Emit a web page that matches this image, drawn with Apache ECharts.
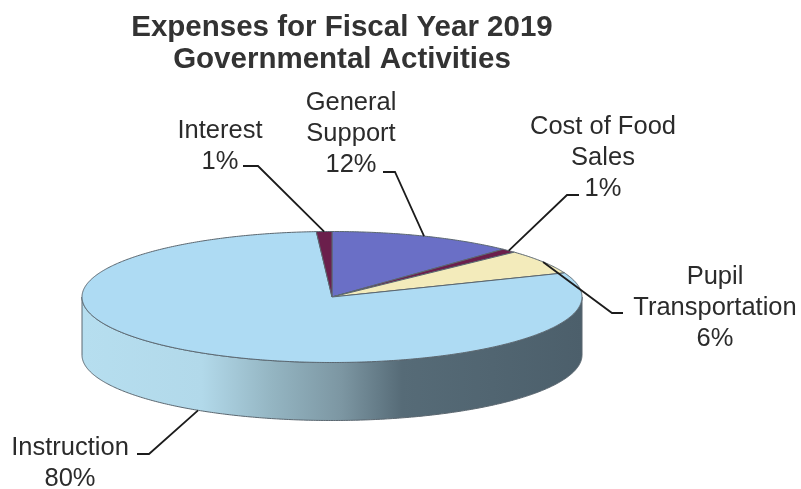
<!DOCTYPE html>
<html><head><meta charset="utf-8">
<style>html,body{margin:0;padding:0;background:#fff}#c{width:801px;height:489px}</style>
<script src="https://cdn.jsdelivr.net/npm/echarts@6/dist/echarts.min.js"></script>
</head><body><div id="c"></div>
<script>
const categories = ['General\nSupport', 'Cost of Food\nSales', 'Pupil\nTransportation', 'Instruction', 'Interest'];
const values = [12, 1, 6, 80, 1];
const titleLines = ['Expenses for Fiscal Year 2019', 'Governmental Activities'];

const colors = ['#6a6fc6', '#6b1f4c', '#f3ebbb', '#aedbf3', '#6b1f4c'];
const geo = {cx: 332, cy: 297, rx: 250, ry: 65.5, depth: 58};
const labelLayout = [
  {x: 351, y: 134, path: [[383, 172], [395, 172]]},
  {x: 603, y: 158, path: [[579, 195], [567, 195]]},
  {x: 715, y: 308, path: [[623, 313], [612, 313]]},
  {x: 70, y: 463, path: [[137, 454], [149, 454]]},
  {x: 220, y: 146, path: [[243, 166], [258, 166]]}
];
const total = values.reduce((a, b) => a + b, 0);
const starts = [];
values.reduce((acc, v, i) => { starts[i] = acc; return acc + v; }, 0);
const ang = v => v / total * 2 * Math.PI;
const pt = (a, dz) => [geo.cx + geo.rx * Math.sin(a), geo.cy - geo.ry * Math.cos(a) + (dz || 0)];
function arc(a0, a1, dz) {
  const n = Math.max(2, Math.ceil((a1 - a0) / 0.01)), out = [];
  for (let i = 0; i <= n; i++) out.push(pt(a0 + (a1 - a0) * i / n, dz));
  return out;
}
const edge = '#5b6770';

const wallFill = new echarts.graphic.LinearGradient(0, 0, 1, 0, [
  {offset: 0, color: '#b6deef'},
  {offset: 0.24, color: '#b2d9ea'},
  {offset: 0.38, color: '#94b5c2'},
  {offset: 0.52, color: '#7c96a2'},
  {offset: 0.64, color: '#566b77'},
  {offset: 1, color: '#4c5f6b'}
]);

function renderWall(params, api) {
  const i = params.dataIndex;
  const s = ang(starts[i]), e = s + ang(api.value(0));
  const a0 = Math.max(s, Math.PI / 2), a1 = Math.min(e, Math.PI * 1.5);
  if (a1 <= a0) return {type: 'group', children: []};
  const pts = arc(a0, a1, 0).concat(arc(a0, a1, geo.depth).reverse());
  return {type: 'polygon', shape: {points: pts},
    style: {fill: wallFill, stroke: edge, lineWidth: 1}};
}
function renderFace(params, api) {
  const i = params.dataIndex;
  const s = ang(starts[i]), e = s + ang(api.value(0));
  const pts = [[geo.cx, geo.cy]].concat(arc(s, e, 0));
  return {type: 'polygon', shape: {points: pts},
    style: {fill: colors[i], stroke: edge, lineWidth: 1, lineJoin: 'round'}};
}
function renderLabel(params, api) {
  const i = params.dataIndex, v = api.value(0);
  const mid = ang(starts[i] + v / 2);
  const front = Math.cos(mid) < 0;
  const tip = pt(mid, front ? geo.depth : 0);
  const L = labelLayout[i];
  return {type: 'group', children: [
    {type: 'polyline', shape: {points: L.path.concat([tip])},
      style: {fill: 'none', stroke: '#1c1c1c', lineWidth: 1.8}},
    {type: 'text', x: L.x, y: L.y,
      style: {text: categories[i] + '\n' + v + '%', align: 'center', verticalAlign: 'middle',
        font: '25.5px "Liberation Sans", Arial, sans-serif', lineHeight: 31, fill: '#2b2b2b'}}
  ]};
}
const data = values.map(v => [v]);
const chart = echarts.init(document.getElementById('c'), null, {renderer: 'canvas'});
chart.setOption({
  animation: false,
  backgroundColor: '#ffffff',
  title: {
    text: titleLines.join('\n'), left: 337, top: 7, textAlign: 'center',
    textStyle: {fontFamily: '"Liberation Sans", Arial, sans-serif', fontWeight: 'bold', fontSize: 29.5, lineHeight: 32, color: '#333333'}
  },
  series: [
    {type: 'custom', coordinateSystem: 'none', silent: true, data, renderItem: renderWall, z: 1},
    {type: 'custom', coordinateSystem: 'none', silent: true, data, renderItem: renderFace, z: 2},
    {type: 'custom', coordinateSystem: 'none', silent: true, data, renderItem: renderLabel, z: 3}
  ]
});
</script></body></html>
